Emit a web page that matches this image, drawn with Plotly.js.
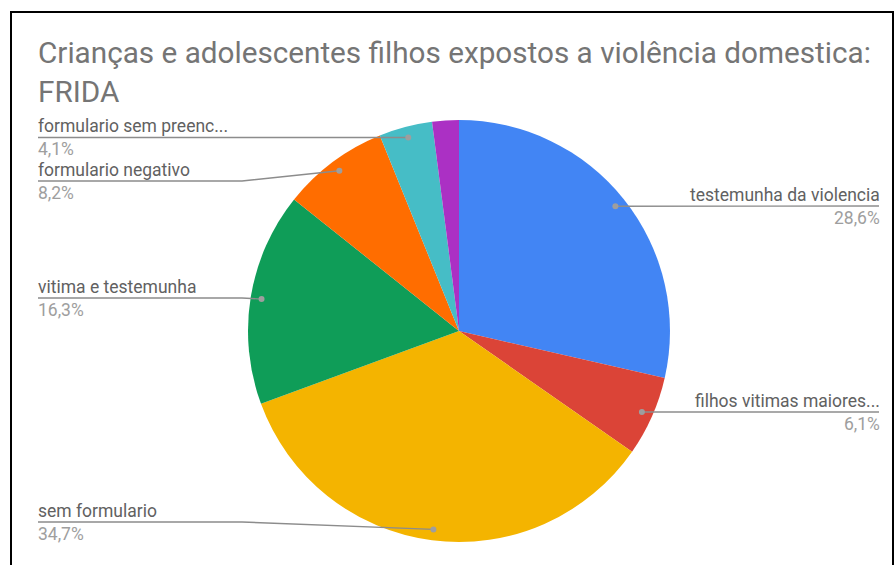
<!DOCTYPE html>
<html>
<head>
<meta charset="utf-8">
<script src="https://cdn.plot.ly/plotly-3.0.1.min.js"></script>
<style>
html,body{margin:0;padding:0;background:#fff;}
#chart{width:896px;height:565px;}
</style>
</head>
<body>
<div id="chart"></div>
<script>
// ---- data ----
const categories = ["testemunha da violencia", "filhos vitimas maiores...", "sem formulario", "vitima e testemunha", "formulario negativo", "formulario sem preenc...", "outros"];
const counts = [14, 3, 17, 8, 4, 2, 1];
const colors = ["#4285F4", "#DB4437", "#F4B400", "#0F9D58", "#FF6D00", "#46BDC6", "#AB30C4"];
const showLabel = [true, true, true, true, true, true, false];
const titleText = "Crianças e adolescentes filhos expostos a violência domestica:<br>FRIDA";

// ---- layout constants (pixels) ----
const W = 896, H = 565;
const cx = 459, cy = 331, R = 211;
const dotFrac = 0.948;
const labelLineY = [206, 412, 522, 298, 181, 137.5, null];
const rightEnd = 879, leftEnd = 38, leftElbow = 242;
const rightText = 881, leftText = 37;

const px = x => x / W;
const py = y => 1 - y / H;

const total = counts.reduce((a, b) => a + b, 0);
let cum = 0;
const shapes = [];
const annotations = [];
counts.forEach((v, i) => {
  const mid = (cum + v / 2) / total * 2 * Math.PI;
  cum += v;
  if (!showLabel[i]) return;
  const dx = cx + R * dotFrac * Math.sin(mid);
  const dy = cy - R * dotFrac * Math.cos(mid);
  const right = Math.sin(mid) > 0;
  const ly = labelLineY[i];
  let path;
  if (right) {
    path = `M ${px(dx)} ${py(dy)} L ${px(rightEnd)} ${py(ly)}`;
  } else {
    path = `M ${px(dx)} ${py(dy)} L ${px(leftElbow)} ${py(ly)} L ${px(leftEnd)} ${py(ly)}`;
  }
  shapes.push({type: "path", xref: "paper", yref: "paper", path: path,
    line: {color: "#8c8c8c", width: 1.4}});
  shapes.push({type: "circle", xref: "paper", yref: "paper",
    xsizemode: "pixel", ysizemode: "pixel",
    xanchor: px(dx), yanchor: py(dy), x0: -3, x1: 3, y0: -3, y1: 3,
    fillcolor: "#9e9e9e", line: {width: 0}});
  const pct = (v / total * 100).toFixed(1).replace(".", ",") + "%";
  const ax = right ? px(rightText) : px(leftText);
  const anchor = right ? "right" : "left";
  annotations.push({xref: "paper", yref: "paper", x: ax, y: py(ly - 0.5),
    xanchor: anchor, yanchor: "bottom", showarrow: false, text: categories[i],
    font: {family: "Roboto", size: 17.5, color: "#616161"}, borderpad: 0});
  annotations.push({xref: "paper", yref: "paper", x: ax, y: py(ly + 0.5),
    xanchor: anchor, yanchor: "top", showarrow: false, text: pct,
    font: {family: "Roboto", size: 17.5, color: "#9e9e9e"}, borderpad: 0});
});

// outer frame
shapes.push({type: "path", xref: "paper", yref: "paper",
  path: `M ${px(11)} ${py(600)} L ${px(11)} ${py(12)} L ${px(893)} ${py(12)} L ${px(893)} ${py(600)}`,
  line: {color: "#000", width: 2}});

const trace = {
  type: "pie",
  labels: categories,
  values: counts,
  sort: false,
  direction: "clockwise",
  rotation: 0,
  textinfo: "none",
  hoverinfo: "label+percent",
  marker: {colors: colors, line: {color: "#ffffff", width: 0}},
  domain: {x: [px(cx - R), px(cx + R)], y: [py(cy + R), py(cy - R)]},
  showlegend: false
};

const layout = {
  width: W, height: H,
  margin: {l: 0, r: 0, t: 0, b: 0},
  paper_bgcolor: "#ffffff",
  showlegend: false,
  title: {text: titleText, x: px(38), xanchor: "left", xref: "paper",
    y: py(63), yanchor: "top", yref: "paper",
    font: {family: "Roboto", size: 29.7, color: "#757575"}},
  shapes: shapes,
  annotations: annotations
};

Plotly.newPlot("chart", [trace], layout, {displayModeBar: false, staticPlot: true});
</script>
</body>
</html>
